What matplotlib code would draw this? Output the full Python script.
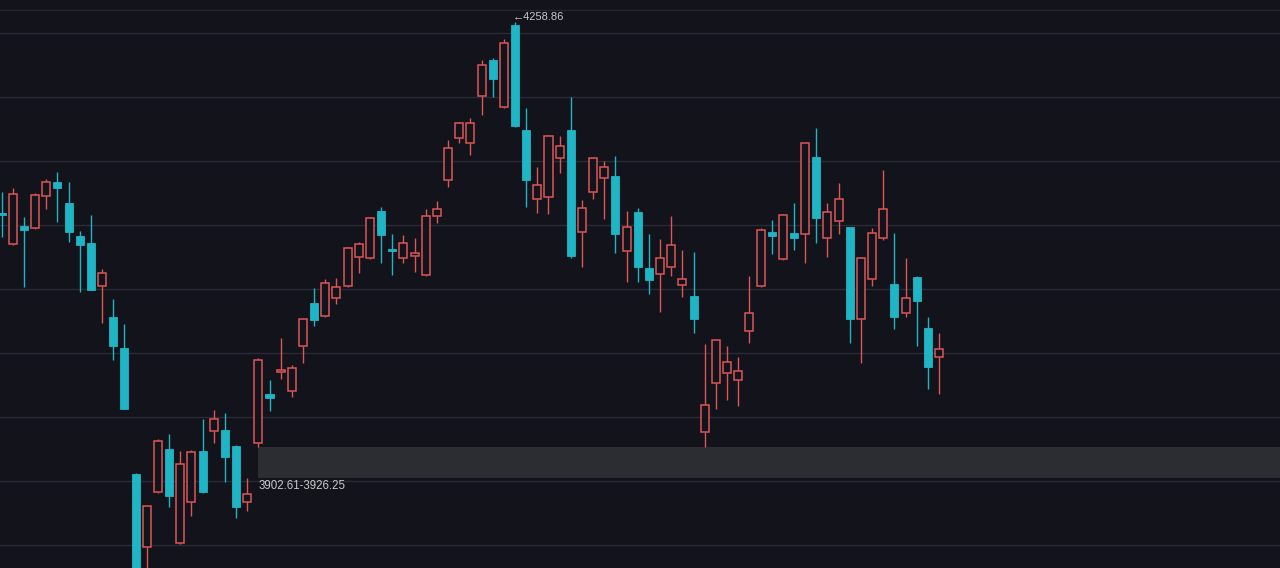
import matplotlib.pyplot as plt
from matplotlib.patches import Rectangle

# donnees (open, high, low, close)
opens = [4109.4, 4085.2, 4099.2, 4097.7, 4122.7, 4133.6, 4117.2, 4091.4, 4085.9, 4052.3,
         4028.1, 4003.9, 3905.5, 3848.4, 3891.4, 3925.0, 3851.6, 3883.6, 3923.4, 3939.1,
         3939.8, 3927.3, 3883.6, 3929.7, 3968.0, 3985.2, 3970.3, 4005.5, 4039.1, 4028.9,
         4043.0, 4052.3, 4075.0, 4074.2, 4110.9, 4081.3, 4074.2, 4075.8, 4060.9, 4107.0,
         4135.2, 4168.0, 4164.1, 4200.8, 4228.9, 4192.2, 4256.3, 4174.2, 4120.3, 4121.9,
         4152.3, 4174.2, 4094.5, 4125.8, 4136.7, 4138.3, 4079.7, 4110.2, 4066.4, 4061.7,
         4067.2, 4053.1, 4044.5, 3938.3, 3976.6, 3984.4, 3978.9, 4017.2, 4052.3, 4094.5,
         4073.4, 4093.8, 4093.0, 4153.1, 4089.8, 4103.1, 4098.4, 4026.6, 4057.8, 4089.8,
         4053.9, 4031.3, 4059.4, 4019.5, 3996.9]
highs = [4125.8, 4128.9, 4106.3, 4125.0, 4135.9, 4141.4, 4133.6, 4095.3, 4107.8, 4065.6,
         4042.2, 4022.7, 3906.3, 3880.5, 3932.8, 3936.7, 3923.4, 3924.2, 3948.4, 3955.5,
         3953.1, 3928.1, 3902.3, 3996.1, 3978.9, 4011.7, 3990.6, 4026.6, 4050.8, 4057.8,
         4058.6, 4082.8, 4086.7, 4106.3, 4114.1, 4093.0, 4092.2, 4089.8, 4112.5, 4118.8,
         4166.4, 4180.5, 4183.6, 4228.9, 4230.5, 4245.3, 4258.86, 4191.4, 4145.3, 4170.3,
         4169.5, 4200.0, 4119.5, 4153.1, 4150.0, 4153.9, 4110.9, 4113.3, 4093.0, 4089.1,
         4107.0, 4080.5, 4078.9, 4007.0, 4010.2, 4005.5, 3996.9, 4060.2, 4097.7, 4103.9,
         4108.6, 4117.2, 4164.1, 4175.8, 4117.2, 4132.8, 4098.4, 4075.0, 4097.7, 4143.0,
         4093.8, 4074.2, 4060.2, 4028.1, 4015.6]
lows = [4090.6, 4084.4, 4051.6, 4096.9, 4112.5, 4102.3, 4086.7, 4047.7, 4049.2, 4023.4,
        3994.5, 3956.3, 3807.0, 3826.6, 3890.6, 3879.7, 3850.8, 3872.7, 3890.6, 3929.7,
        3899.2, 3871.1, 3876.6, 3926.6, 3954.7, 3979.7, 3965.6, 3992.2, 4021.1, 4028.1,
        4038.3, 4051.6, 4062.5, 4073.4, 4070.3, 4060.9, 4070.3, 4063.3, 4060.2, 4101.6,
        4129.7, 4164.1, 4154.7, 4185.9, 4200.0, 4191.4, 4176.6, 4114.1, 4109.4, 4108.6,
        4140.6, 4074.2, 4067.2, 4120.3, 4104.7, 4078.1, 4055.5, 4055.5, 4046.1, 4032.0,
        4060.2, 4043.8, 4015.6, 3926.6, 3956.3, 3963.3, 3958.6, 4007.8, 4051.6, 4077.3,
        4072.7, 4080.5, 4070.3, 4085.9, 4075.0, 4093.0, 4007.8, 3992.2, 4052.3, 4088.3,
        4018.8, 4028.1, 4005.5, 3971.9, 3968.0]
closes = [4107.8, 4124.2, 4096.1, 4123.4, 4133.6, 4128.9, 4094.5, 4084.4, 4049.2, 4062.5,
          4005.5, 3956.3, 3814.8, 3880.5, 3931.3, 3888.3, 3913.3, 3922.7, 3891.4, 3948.4,
          3918.8, 3879.7, 3889.8, 3994.5, 3964.8, 3986.7, 3988.3, 4026.6, 4025.8, 4054.7,
          4051.6, 4082.0, 4085.2, 4105.5, 4092.2, 4079.7, 4085.9, 4078.1, 4107.0, 4112.5,
          4160.2, 4179.7, 4179.7, 4225.0, 4214.1, 4242.2, 4177.3, 4135.2, 4131.3, 4169.5,
          4161.7, 4075.8, 4113.3, 4152.3, 4145.3, 4093.0, 4098.4, 4067.2, 4057.0, 4074.2,
          4084.4, 4057.8, 4026.6, 3959.4, 4010.2, 3993.0, 3985.9, 4031.3, 4096.1, 4091.4,
          4107.8, 4089.8, 4164.1, 4105.5, 4110.2, 4120.3, 4026.6, 4074.2, 4093.8, 4112.5,
          4028.1, 4043.0, 4040.6, 3989.1, 4003.1]

zone_bas, zone_haut = 3902.61, 3926.25
zone_debut = 23          # bougie ou commence la zone
grille = [3850, 3900, 3950, 4000, 4050, 4100, 4150, 4200, 4250]

fond = '#12131b'
rouge = '#dc5656'
turquoise = '#1fb5c4'
largeur = 0.72
police = ['Liberation Sans', 'DejaVu Sans']

fig = plt.figure(figsize=(12.8, 5.68), dpi=100, facecolor=fond)
ax = fig.add_axes([0, 0, 1, 1])
ax.set_facecolor(fond)

# grille horizontale
for g in grille:
    ax.axhline(g, color='#2a2c35', lw=1, zorder=0)
ax.axhline(4268, color='#24262e', lw=1, zorder=0)

# zone grise
ax.add_patch(Rectangle((zone_debut, zone_bas), 200, zone_haut - zone_bas,
                       facecolor='#2c2d32', edgecolor='none', zorder=1))
ax.annotate("3902.61-3926.25", xy=(zone_debut, zone_bas), xytext=(0, -1.5),
            textcoords='offset points', color='#c9c9c9', fontsize=8.3,
            family=police, ha='left', va='top')

# bougies
for i in range(len(opens)):
    o, h, l, c = opens[i], highs[i], lows[i], closes[i]
    haut, bas = max(o, c), min(o, c)
    if haut - bas < 1.5:
        haut, bas = (o + c) / 2 + 0.9, (o + c) / 2 - 0.9
    if c > o:
        # bougie creuse rouge
        ax.plot([i, i], [haut, h], color=rouge, lw=1, zorder=2, solid_capstyle='butt')
        ax.plot([i, i], [l, bas], color=rouge, lw=1, zorder=2, solid_capstyle='butt')
        ax.add_patch(Rectangle((i - largeur / 2, bas), largeur, haut - bas,
                               facecolor=fond, edgecolor=rouge, lw=1.1, zorder=3))
    else:
        ax.plot([i, i], [l, h], color=turquoise, lw=1, zorder=2, solid_capstyle='butt')
        ax.add_patch(Rectangle((i - largeur / 2, bas), largeur, haut - bas,
                               facecolor=turquoise, edgecolor=turquoise, lw=0.6, zorder=3))

# plus haut
imax = highs.index(max(highs))
ax.annotate("\u2190" + str(max(highs)), xy=(imax, max(highs)), xytext=(-1.5, 3.5),
            textcoords='offset points', color='#c9c9c9', fontsize=8.0,
            family=police, ha='left', va='center')

ax.set_xlim(-0.15, 114.55)
ax.set_ylim(3832.0, 4275.8)
ax.axis('off')

plt.savefig('out.png', dpi=100, facecolor=fond)
